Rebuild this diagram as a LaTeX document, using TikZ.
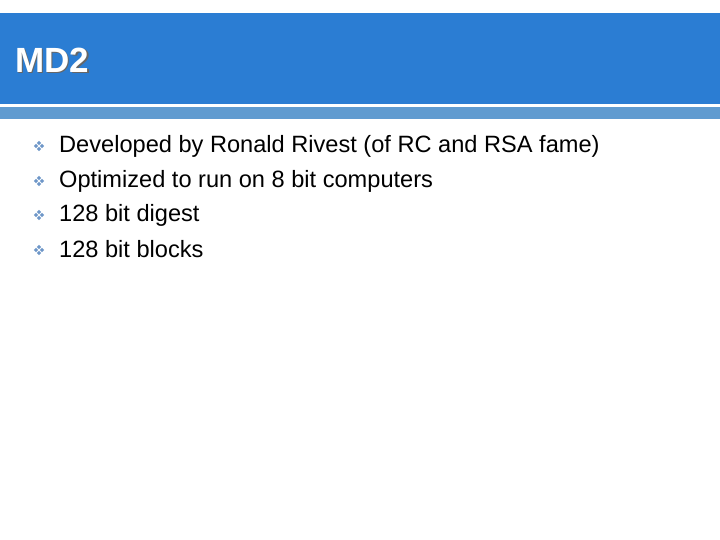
\documentclass[tikz,border=0pt]{standalone}
\usepackage{fontspec}
\setmainfont{Liberation Sans}
\usetikzlibrary{calc}
\definecolor{hdr}{RGB}{43,125,211}
\definecolor{strip}{RGB}{96,155,208}
\definecolor{bul}{RGB}{110,150,200}
\begin{document}
\begin{tikzpicture}[x=1pt,y=-1pt,
  item/.style={anchor=base west,inner sep=0pt,font=\fontsize{23.6}{28}\selectfont}]
\useasboundingbox (0,0) rectangle (720,540);
\fill[white] (0,0) rectangle (720,540);
\fill[hdr] (0,13) rectangle (720,104);
\fill[strip] (0,107) rectangle (720,119);
\node[anchor=west,inner sep=0pt,text=black!60,font=\fontsize{35}{40}\bfseries] (ts) at (16.5,61.5) {MD2};
\node[anchor=west,inner sep=0pt,text=white,font=\fontsize{35}{40}\bfseries] (t) at (15,60) {MD2};
\foreach \y/\txt [count=\i] in {153/{Developed by Ronald Rivest (of RC and RSA fame)},188/{Optimized to run on 8 bit computers},222/{128 bit digest},257/{128 bit blocks}}{
  \node[item] (b\i) at (59,\y) {\txt};
  \coordinate (c\i) at (39,\y-7);
  \foreach \dx/\dy in {0/-3,0/3,-3/0,3/0}
    \fill[bul] ($(c\i)+(\dx,\dy)$) +(0,-2.2) -- +(2.2,0) -- +(0,2.2) -- +(-2.2,0) -- cycle;
}
\end{tikzpicture}
\end{document}
